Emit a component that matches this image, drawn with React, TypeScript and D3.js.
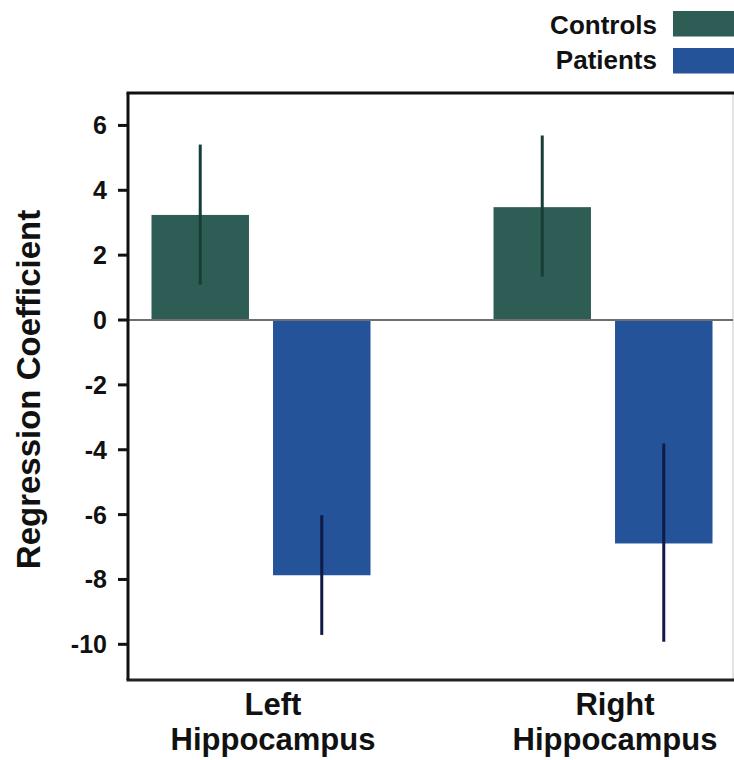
import React from "react";
import * as d3 from "d3";

const categories = ["Left", "Right"];
const categoryLine2 = ["Hippocampus", "Hippocampus"];
const series = ["Controls", "Patients"];
const controls = [3.24, 3.48];
const controlsLow = [1.09, 1.34];
const controlsHigh = [5.41, 5.69];
const patients = [-7.87, -6.89];
const patientsLow = [-9.71, -9.92];
const patientsHigh = [-6.02, -3.81];
const yTicks = [6, 4, 2, 0, -2, -4, -6, -8, -10];

const colors: Record<string, string> = { Controls: "#2e5d55", Patients: "#24539a" };
const errColors: Record<string, string> = { Controls: "#173d37", Patients: "#101a45" };

const W = 734;
const H = 760;
const frame = { left: 128, right: 733, top: 93, bottom: 680 };
const font = "'Liberation Sans', Arial, Helvetica, sans-serif";

export default function App() {
  const y = d3.scaleLinear().domain([-11.1, 7]).range([frame.bottom, frame.top]);
  const x0 = d3.scaleBand<string>().domain(categories).range([90, 774]);
  const x1 = d3
    .scaleBand<string>()
    .domain(series)
    .range([61.5, 280.5])
    .paddingInner(0.198);

  const values: Record<string, number[]> = { Controls: controls, Patients: patients };
  const lows: Record<string, number[]> = { Controls: controlsLow, Patients: patientsLow };
  const highs: Record<string, number[]> = { Controls: controlsHigh, Patients: patientsHigh };

  return (
    <svg
      width={W}
      height={H}
      style={{ position: "absolute", left: 0, top: 0, background: "#fff" }}
      fontFamily={font}
    >
      <rect x={0} y={0} width={W} height={H} fill="#fff" />
      {/* Legend */}
      {series.map((s, i) => (
        <g key={s}>
          <text
            x={657}
            y={34 + i * 34.5}
            textAnchor="end"
            fontSize={26}
            fontWeight="bold"
            fill="#111"
          >
            {s}
          </text>
          <rect x={673} y={11 + i * 37} width={62} height={25.5} fill={colors[s]} />
        </g>
      ))}

      {/* Frame right (light) */}
      <line x1={frame.right} x2={frame.right} y1={frame.top} y2={frame.bottom} stroke="#c8c8c8" strokeWidth={1} />

      {/* Bars */}
      {categories.map((c, ci) => (
        <g key={c} transform={`translate(${x0(c)},0)`}>
          {series.map((s) => {
            const v = values[s][ci];
            const bx = x1(s)!;
            const bw = x1.bandwidth();
            return (
              <g key={s}>
                <rect
                  x={bx}
                  y={Math.min(y(v), y(0))}
                  width={bw}
                  height={Math.abs(y(v) - y(0))}
                  fill={colors[s]}
                />
                <line
                  x1={bx + bw / 2}
                  x2={bx + bw / 2}
                  y1={y(lows[s][ci])}
                  y2={y(highs[s][ci])}
                  stroke={errColors[s]}
                  strokeWidth={3}
                />
              </g>
            );
          })}
        </g>
      ))}

      {/* Zero line */}
      <line x1={frame.left} x2={frame.right} y1={y(0)} y2={y(0)} stroke="#6f6f6f" strokeWidth={2} />

      {/* Frame top, bottom, left */}
      <line x1={frame.left - 1.5} x2={frame.right + 1} y1={frame.top} y2={frame.top} stroke="#111" strokeWidth={3} />
      <line x1={frame.left - 1.5} x2={frame.right + 1} y1={frame.bottom} y2={frame.bottom} stroke="#222" strokeWidth={3} />
      <line x1={frame.left} x2={frame.left} y1={frame.top} y2={frame.bottom} stroke="#111" strokeWidth={3} />

      {/* Y ticks */}
      {yTicks.map((t) => (
        <g key={t}>
          <line x1={118} x2={frame.left} y1={y(t)} y2={y(t)} stroke="#111" strokeWidth={3} />
          <text
            x={107}
            y={y(t)}
            dy="0.36em"
            textAnchor="end"
            fontSize={25}
            fontWeight="bold"
            fill="#111"
          >
            {t}
          </text>
        </g>
      ))}

      {/* Y title */}
      <text
        transform={`translate(40,389.5) rotate(-90)`}
        textAnchor="middle"
        fontSize={33}
        fontWeight="bold"
        fill="#111"
      >
        Regression Coefficient
      </text>

      {/* Category labels */}
      {categories.map((c, ci) => {
        const cx = x0(c)! + x0.bandwidth() / 2 + 12;
        return (
          <g key={c}>
            <text x={cx} y={715} textAnchor="middle" fontSize={31} fontWeight="bold" fill="#111">
              {c}
            </text>
            <text x={cx} y={750} textAnchor="middle" fontSize={31} fontWeight="bold" fill="#111">
              {categoryLine2[ci]}
            </text>
          </g>
        );
      })}
    </svg>
  );
}
